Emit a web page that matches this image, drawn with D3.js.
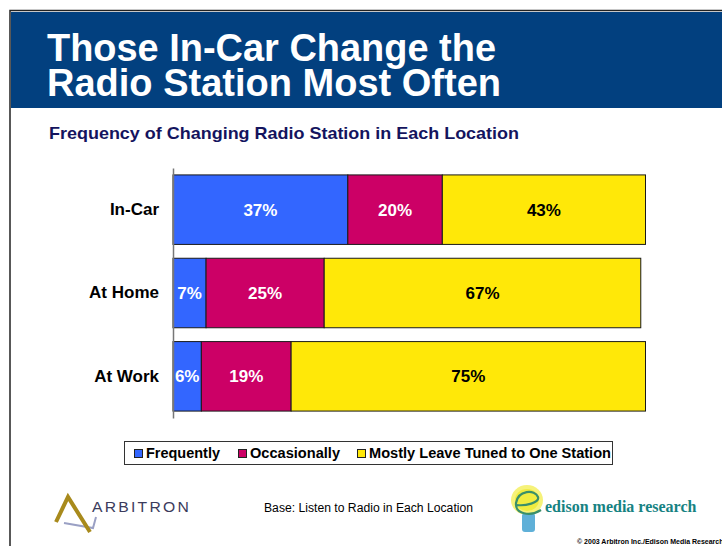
<!DOCTYPE html>
<html><head><meta charset="utf-8">
<script src="https://cdn.jsdelivr.net/npm/d3@7"></script>
<style>html,body{margin:0;padding:0;background:#fff;}svg{display:block;}</style>
</head><body>
<script>
const categories = ["In-Car", "At Home", "At Work"];
const seriesNames = ["Frequently", "Occasionally", "Mostly Leave Tuned to One Station"];
const frequently = [37, 7, 6];
const occasionally = [20, 25, 19];
const mostlyTuned = [43, 67, 75];
const seriesColors = ["#3366FF", "#CC0066", "#FFE808"];
const labelColors = ["#ffffff", "#ffffff", "#000000"];

const W = 722, H = 546;
const svg = d3.select("body").append("svg").attr("width", W).attr("height", H);
const font = "'Liberation Sans', Arial, sans-serif";

// frame + header
svg.append("rect").attr("x", 10).attr("y", 10.5).attr("width", 730).attr("height", 560)
  .attr("fill", "none").attr("stroke", "#222").attr("stroke-width", 1.5);
svg.append("rect").attr("x", 11).attr("y", 12).attr("width", 711).attr("height", 96).attr("fill", "#02407F");
svg.append("text").attr("x", 47).attr("y", 61).attr("fill", "#fff").attr("font-family", font)
  .attr("font-weight", "bold").attr("font-size", 38).attr("textLength", 449).attr("lengthAdjust", "spacingAndGlyphs")
  .text("Those In-Car Change the");
svg.append("text").attr("x", 47).attr("y", 96).attr("fill", "#fff").attr("font-family", font)
  .attr("font-weight", "bold").attr("font-size", 38).attr("textLength", 454).attr("lengthAdjust", "spacingAndGlyphs")
  .text("Radio Station Most Often");
svg.append("text").attr("x", 49).attr("y", 138.5).attr("fill", "#14145e").attr("font-family", font)
  .attr("font-weight", "bold").attr("font-size", 17).attr("textLength", 470).attr("lengthAdjust", "spacingAndGlyphs")
  .text("Frequency of Changing Radio Station in Each Location");

// chart
const rows = categories.map((c, i) => ({cat: c, vals: [frequently[i], occasionally[i], mostlyTuned[i]]}));
const x = d3.scaleLinear().domain([0, 100]).range([173, 645.5]);
const y = d3.scaleBand().domain(categories).range([168, 418]).paddingInner(0.166).paddingOuter(0.083);

const segs = [];
rows.forEach(r => {
  let acc = 0;
  r.vals.forEach((v, k) => { segs.push({cat: r.cat, k, x0: acc, x1: acc + v, v}); acc += v; });
});

const g = svg.append("g");
g.selectAll("rect.seg").data(segs).join("rect").attr("class", "seg")
  .attr("x", d => x(d.x0)).attr("y", d => y(d.cat))
  .attr("width", d => x(d.x1) - x(d.x0)).attr("height", y.bandwidth())
  .attr("fill", d => seriesColors[d.k]).attr("stroke", "#1a1a1a").attr("stroke-width", 1);

g.selectAll("text.val").data(segs).join("text").attr("class", "val")
  .attr("x", d => (x(d.x0) + x(d.x1)) / 2).attr("y", d => y(d.cat) + y.bandwidth() / 2 + 6)
  .attr("text-anchor", "middle").attr("fill", d => labelColors[d.k])
  .attr("font-family", font).attr("font-weight", "bold").attr("font-size", 17)
  .text(d => d.v + "%");

const yAxis = svg.append("g").attr("transform", "translate(173,0)")
  .call(d3.axisLeft(y).tickSize(0).tickPadding(14));
yAxis.select(".domain").attr("stroke", "#777").attr("stroke-width", 1.5);
yAxis.selectAll("text").attr("font-family", font).attr("font-weight", "bold").attr("font-size", 17).attr("fill", "#000");

// legend
const lg = svg.append("g");
lg.append("rect").attr("x", 124.5).attr("y", 441.5).attr("width", 488).attr("height", 23)
  .attr("fill", "#fff").attr("stroke", "#333").attr("stroke-width", 1);
const legX = [134, 238, 357];
const legW = [74, 90, 242];
seriesNames.forEach((n, k) => {
  lg.append("rect").attr("x", legX[k] + 0.5).attr("y", 449.5).attr("width", 8).attr("height", 8)
    .attr("fill", seriesColors[k]).attr("stroke", "#222").attr("stroke-width", 1);
  lg.append("text").attr("x", legX[k] + 12).attr("y", 458).attr("font-family", font)
    .attr("font-weight", "bold").attr("font-size", 14.5).attr("fill", "#000")
    .attr("textLength", legW[k]).attr("lengthAdjust", "spacingAndGlyphs").text(n);
});

// footer: Arbitron logo
const logo = svg.append("g");
logo.append("path").attr("d", "M64,523 L93,528 L96,517").attr("fill", "none")
  .attr("stroke", "#9aa0c4").attr("stroke-width", 2);
logo.append("path").attr("d", "M56,522 L68,497 L90,532").attr("fill", "none")
  .attr("stroke", "#A88A1C").attr("stroke-width", 4).attr("stroke-linejoin", "miter");
svg.append("text").attr("x", 92).attr("y", 511.5).attr("font-family", font).attr("font-size", 14)
  .attr("fill", "#3b3b5c").attr("letter-spacing", 2).attr("textLength", 99).attr("lengthAdjust", "spacingAndGlyphs").text("ARBITRON");

svg.append("text").attr("x", 264).attr("y", 512).attr("font-family", font).attr("font-size", 12)
  .attr("fill", "#000").attr("textLength", 209).attr("lengthAdjust", "spacingAndGlyphs")
  .text("Base: Listen to Radio in Each Location");

// Edison logo
const ed = svg.append("g");
ed.append("ellipse").attr("cx", 527).attr("cy", 500).attr("rx", 16).attr("ry", 15).attr("fill", "#F6F27A");
ed.append("ellipse").attr("cx", 527).attr("cy", 500).attr("rx", 12).attr("ry", 11).attr("fill", "#F0EC40");
ed.append("rect").attr("x", 522).attr("y", 513).attr("width", 13).attr("height", 19).attr("rx", 3).attr("fill", "#5FB0D8");
ed.append("path").attr("d", "M517,505 C525,506 540,503 538,497 C535,489 518,490 516,503 C515,514 530,517 541,510")
  .attr("fill", "none").attr("stroke", "#3A8F6A").attr("stroke-width", 2.2);
svg.append("text").attr("x", 545).attr("y", 512).attr("font-family", "'Liberation Serif', 'Times New Roman', serif")
  .attr("font-weight", "bold").attr("font-size", 16).attr("fill", "#168282").text("edison media research");

svg.append("text").attr("x", 577).attr("y", 543.5).attr("font-family", font).attr("font-weight", "bold")
  .attr("font-size", 7).attr("fill", "#000").text("© 2003 Arbitron Inc./Edison Media Research");
</script>
</body></html>
